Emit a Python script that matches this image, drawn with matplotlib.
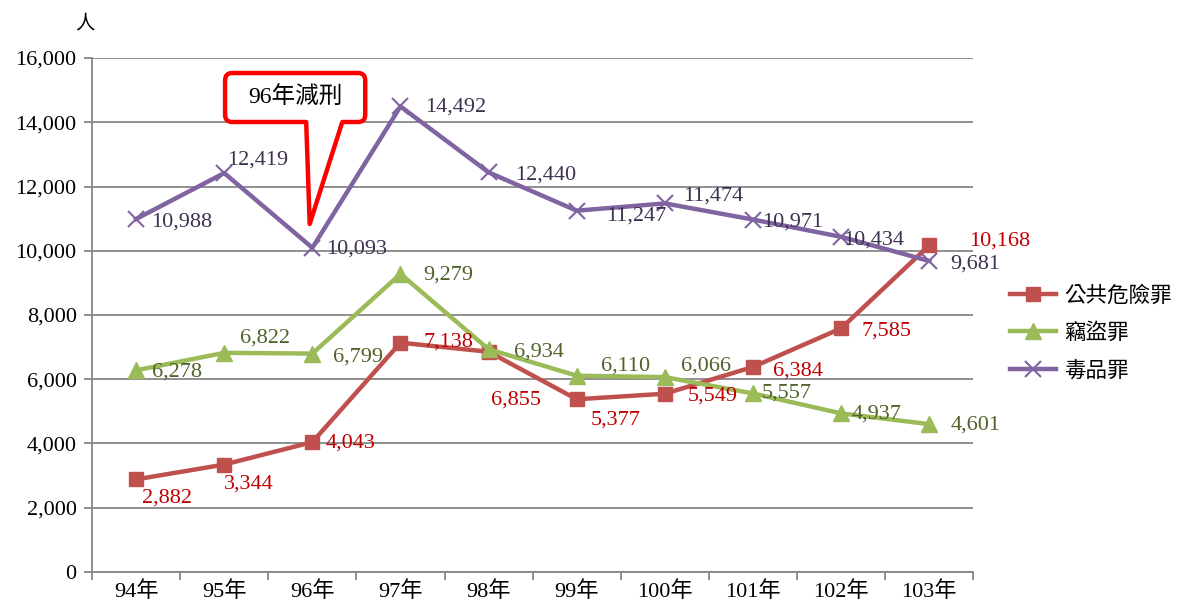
import matplotlib
matplotlib.use("Agg")
import matplotlib.pyplot as plt
import numpy as np
from matplotlib.path import Path
from matplotlib.patches import PathPatch

years = ["94年", "95年", "96年", "97年", "98年", "99年", "100年", "101年", "102年", "103年"]
public_danger = [2882, 3344, 4043, 7138, 6855, 5377, 5549, 6384, 7585, 10168]
theft = [6278, 6822, 6799, 9279, 6934, 6110, 6066, 5557, 4937, 4601]
drugs = [10988, 12419, 10093, 14492, 12440, 11247, 11474, 10971, 10434, 9681]
series_names = ["公共危險罪", "竊盜罪", "毒品罪"]
y_ticks = [0, 2000, 4000, 6000, 8000, 10000, 12000, 14000, 16000]
callout_text = "96年減刑"
y_unit = "人"

# label offsets in pixels (layout)
off_red = [(31, -19), (25, -19), (38, -1), (48, 1), (27, -48), (39, -21), (48, -2), (45, -4), (45, -3), (70, 4)]
off_green = [(41, -2), (41, 15), (46, -3), (48, -1), (50, -3), (49, 10), (41, 11), (34, 0), (35, -1), (46, -1)]
off_purple = [(46, -3), (33, 13), (44, -1), (55, -1), (57, -3), (59, -5), (48, 7), (40, -2), (32, -3), (46, -3)]

SERIF = ["Liberation Serif", "Noto Sans CJK TC"]
CJK = ["Noto Sans CJK TC", "Liberation Serif"]

fig = plt.figure(figsize=(11.81, 6.12), dpi=100)
ax = fig.add_axes([0.0779, 0.0654, 0.7463, 0.8398])

x = np.arange(len(years))
c_red, c_green, c_purple = "#C0504D", "#9BBB59", "#8064A2"
t_red, t_green, t_purple = "#C00000", "#4F6228", "#3F3151"

ax.plot(x, public_danger, color=c_red, lw=3.2, marker="s", ms=10, zorder=3, label=series_names[0])
ax.plot(x, theft, color=c_green, lw=3.2, marker="^", ms=11, zorder=3, label=series_names[1])
ax.plot(x, drugs, color=c_purple, lw=3.2, marker="x", ms=11, mew=1.5, zorder=3, label=series_names[2])

for vals, offs, tc in [(public_danger, off_red, t_red), (theft, off_green, t_green), (drugs, off_purple, t_purple)]:
    for i, v in enumerate(vals):
        ax.annotate(f"{v:,}", (x[i], v), xytext=offs[i], textcoords="offset pixels",
                    ha="center", va="center", fontsize=16, color=tc, family=SERIF, zorder=5)

ax.set_xlim(-0.5, len(years) - 0.5)
ax.set_ylim(0, 16000)
ax.set_yticks(y_ticks)
ax.set_yticklabels([f"{v:,}" for v in y_ticks], family=SERIF, fontsize=16)
ax.set_xticks(x)
ax.set_xticklabels(years, family=SERIF, fontsize=16)
ax.set_xticks(np.arange(-0.5, len(years)), minor=True)
ax.tick_params(axis="x", which="major", length=0, pad=7)
ax.tick_params(axis="x", which="minor", length=6, color="#878787", width=1.3)
ax.tick_params(axis="y", length=6, color="#878787", width=1.3, pad=5)
ax.grid(axis="y", color="#878787", lw=1.3)
ax.set_axisbelow(True)
for s in ["top", "right"]:
    ax.spines[s].set_visible(False)
for s in ["left", "bottom"]:
    ax.spines[s].set_color("#878787")
    ax.spines[s].set_linewidth(1.3)

fig.text(85 / 1181, 1 - 23 / 612, y_unit, family=CJK, fontsize=14, ha="center", va="center")

# callout
x0, x1, y0, y1 = 1.01, 2.60, 14008, 15533
tl, tr, tipx, tipy = 1.93, 2.34, 1.97, 10833
rx, ry = 0.08, 230
verts = [(tl, y0), (tipx, tipy), (tr, y0), (x1 - rx, y0), (x1, y0), (x1, y0 + ry),
         (x1, y1 - ry), (x1, y1), (x1 - rx, y1), (x0 + rx, y1), (x0, y1), (x0, y1 - ry),
         (x0, y0 + ry), (x0, y0), (x0 + rx, y0), (tl, y0)]
codes = [Path.MOVETO, Path.LINETO, Path.LINETO, Path.LINETO, Path.CURVE3, Path.CURVE3,
         Path.LINETO, Path.CURVE3, Path.CURVE3, Path.LINETO, Path.CURVE3, Path.CURVE3,
         Path.LINETO, Path.CURVE3, Path.CURVE3, Path.CLOSEPOLY]
ax.add_patch(PathPatch(Path(verts, codes), facecolor="white", edgecolor="#FF0000", lw=3.2,
                       zorder=6, clip_on=False, joinstyle="round"))
ax.text((x0 + x1) / 2, (y0 + y1) / 2, callout_text, family=SERIF, fontsize=17,
        ha="center", va="center", zorder=7)

leg = fig.legend(loc="upper left", bbox_to_anchor=(1004 / 1181, 1 - 278 / 612), frameon=False,
                 prop={"family": CJK, "size": 15.5}, handlelength=2.1, labelspacing=0.72,
                 handletextpad=0.4, borderaxespad=0, borderpad=0.3)

fig.savefig("out.png", dpi=100)
